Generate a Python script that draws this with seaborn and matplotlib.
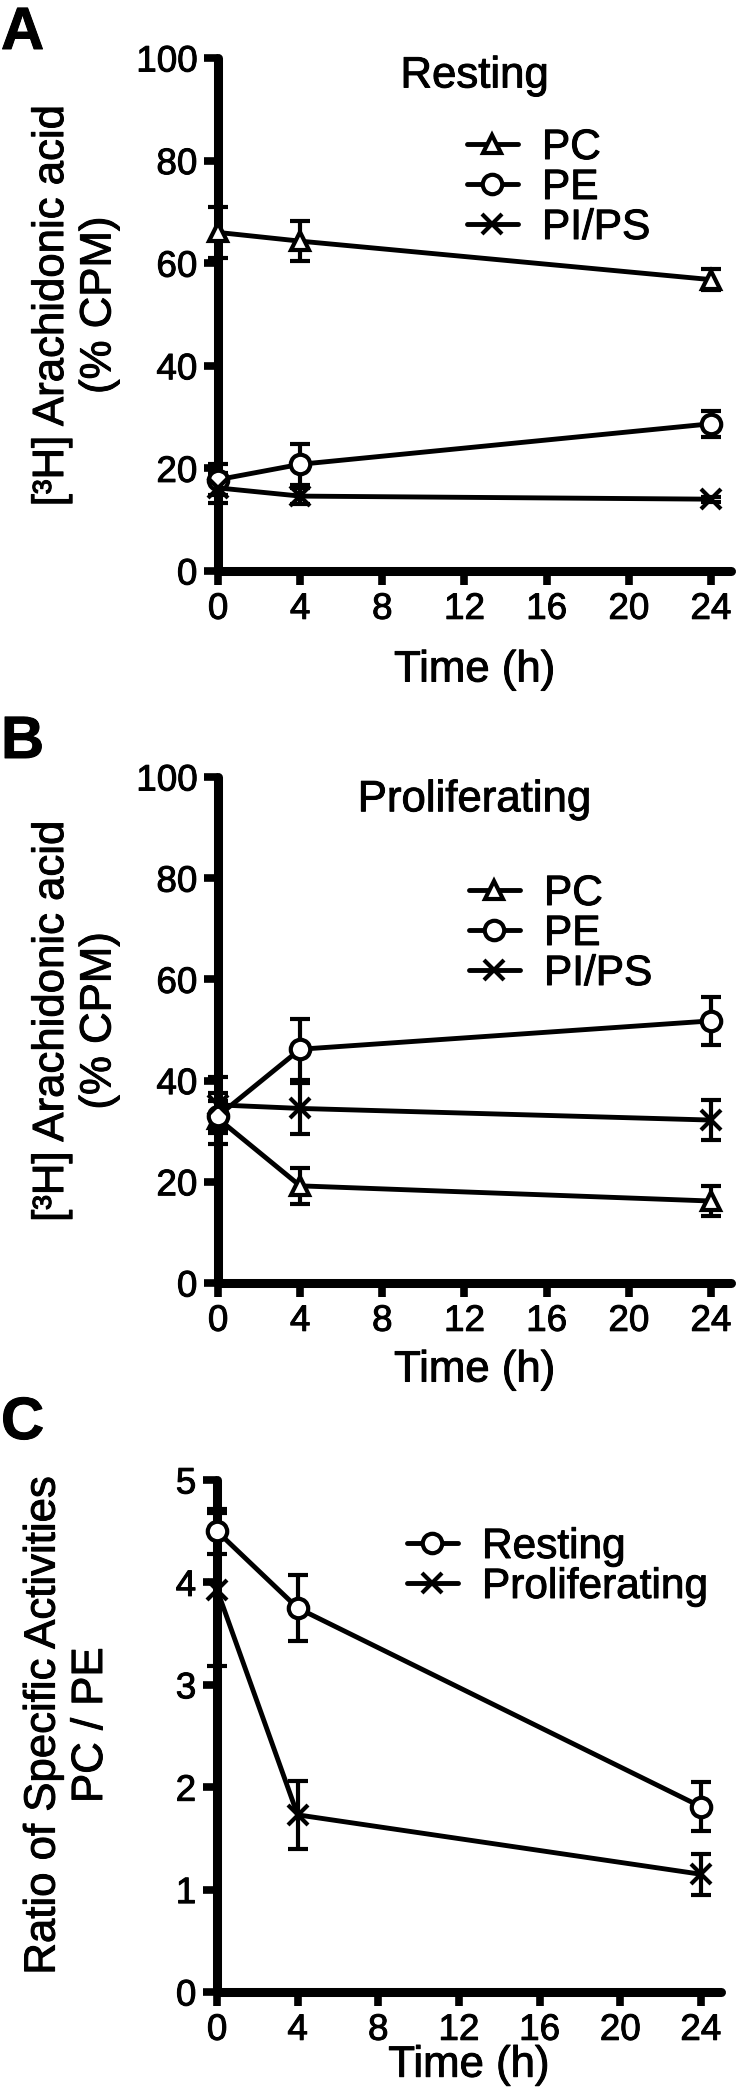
import numpy as np
import pandas as pd
import matplotlib
matplotlib.use("Agg")
import matplotlib.pyplot as plt
import matplotlib.patheffects as pe
import seaborn as sns

# ---------------- data ----------------
time_h = [0, 4, 24]
x_ticks = [0, 4, 8, 12, 16, 20, 24]

# Panel A: Resting
rest_pc = [66.0, 64.3, 56.8]
rest_pc_err = [5.0, 3.9, 2.0]
rest_pe = [17.8, 20.8, 28.7]
rest_pe_err = [3.0, 4.0, 2.5]
rest_pips = [16.2, 14.6, 14.0]
rest_pips_err = [3.0, 1.5, 0.5]

# Panel B: Proliferating
prol_pc = [32.5, 19.2, 16.2]
prol_pc_err = [5.0, 3.5, 3.0]
prol_pe = [33.0, 46.2, 51.8]
prol_pe_err = [3.0, 6.0, 4.7]
prol_pips = [35.2, 34.5, 32.2]
prol_pips_err = [5.5, 5.0, 4.0]

# Panel C: ratio PC/PE
ratio_rest = [4.50, 3.75, 1.81]
ratio_rest_err = [0.22, 0.32, 0.24]
ratio_prol = [3.93, 1.73, 1.15]
ratio_prol_err = [0.75, 0.33, 0.20]

y_ticks_ab = [0, 20, 40, 60, 80, 100]
y_ticks_c = [0, 1, 2, 3, 4, 5]

# ---------------- style ----------------
sns.set_theme(style="ticks")
plt.rcParams["font.family"] = ["Liberation Sans", "DejaVu Sans"]
plt.rcParams["text.color"] = "black"
plt.rcParams["axes.labelcolor"] = "black"
plt.rcParams["axes.linewidth"] = 6.5
plt.rcParams["xtick.major.width"] = 5.5
plt.rcParams["ytick.major.width"] = 5.5
plt.rcParams["xtick.major.size"] = 10
plt.rcParams["ytick.major.size"] = 10
plt.rcParams["xtick.color"] = "black"
plt.rcParams["ytick.color"] = "black"
plt.rcParams["xtick.labelcolor"] = "black"
plt.rcParams["ytick.labelcolor"] = "black"
plt.rcParams["axes.edgecolor"] = "black"

TICK_FS = 26.5
LAB_FS = 31.5
LEG_FS = 30.5

fig = plt.figure(figsize=(7.36, 20.92), dpi=100)
W, H = 736.0, 2092.0


def make_ax(left, right, top, bottom):
    return fig.add_axes([left / W, 1 - bottom / H, (right - left) / W, (bottom - top) / H])


axA = make_ax(218, 731.5, 58, 571)
axB = make_ax(218, 731.5, 777, 1283)
axC = make_ax(217, 721, 1480, 1992)

LW = 3.5
MEW = 3.0
series_style = {
    "^": dict(markersize=12.5),
    "o": dict(markersize=14),
    "x": dict(markersize=15),
}


def draw(ax, y, err, marker, label):
    df = pd.DataFrame({"Time (h)": time_h, "value": y})
    ax.errorbar(time_h, y, yerr=err, fmt="none", ecolor="black",
                elinewidth=3, capsize=7, capthick=3, zorder=3, clip_on=False)
    sns.lineplot(data=df, x="Time (h)", y="value", ax=ax, color="black",
                 linewidth=LW, marker=marker, markerfacecolor="white",
                 markeredgecolor="black", markeredgewidth=MEW,
                 label=label, zorder=5, clip_on=False,
                 **series_style[marker])


def style_axes(ax, yticks, ymax):
    ax.set_xlim(0, 25)
    ax.set_ylim(0, ymax)
    ax.set_xticks(x_ticks)
    ax.set_yticks(yticks)
    ax.tick_params(axis="both", labelsize=TICK_FS, direction="out")
    ax.tick_params(axis="x", pad=5)
    ax.tick_params(axis="y", pad=5)
    sns.despine(ax=ax)
    for s in ("left", "bottom"):
        ax.spines[s].set_capstyle("round")
        ax.spines[s].set_zorder(4)


# Panel A
draw(axA, rest_pc, rest_pc_err, "^", "PC")
draw(axA, rest_pe, rest_pe_err, "o", "PE")
draw(axA, rest_pips, rest_pips_err, "x", "PI/PS")
style_axes(axA, y_ticks_ab, 100)
axA.set_title("Resting", fontsize=LAB_FS, y=0.965, va="center", pad=0)

# Panel B
draw(axB, prol_pc, prol_pc_err, "^", "PC")
draw(axB, prol_pe, prol_pe_err, "o", "PE")
draw(axB, prol_pips, prol_pips_err, "x", "PI/PS")
style_axes(axB, y_ticks_ab, 100)
axB.set_title("Proliferating", fontsize=LAB_FS, y=0.955, va="center", pad=0)

# Panel C
draw(axC, ratio_rest, ratio_rest_err, "o", "Resting")
draw(axC, ratio_prol, ratio_prol_err, "x", "Proliferating")
style_axes(axC, y_ticks_c, 5)

# axis labels
for ax, yl, ycoord, xl_y in (
    (axA, "[³H] Arachidonic acid\n(% CPM)", (-0.278, 0.518), -0.193),
    (axB, "[³H] Arachidonic acid\n(% CPM)", (-0.278, 0.518), -0.172),
    (axC, "Ratio of Specific Activities\nPC / PE", (-0.298, 0.521), -0.143),
):
    ax.set_ylabel(yl, fontsize=LAB_FS, linespacing=1.2)
    ax.yaxis.set_label_coords(*ycoord)
    ax.yaxis.label.set_va("center")
    ax.set_xlabel("Time (h)", fontsize=LAB_FS)
    ax.xaxis.set_label_coords(0.5, xl_y)
    ax.xaxis.label.set_va("center")

# legends
leg_kw = dict(frameon=False, fontsize=LEG_FS, handlelength=1.2,
              handletextpad=0.57, labelspacing=0.0, borderpad=0,
              borderaxespad=0, loc="upper left", numpoints=1)
axA.legend(bbox_to_anchor=((467 - 218) / 513.5, (571 - 128) / 513), **leg_kw)
axB.legend(bbox_to_anchor=((469 - 218) / 513.5, (1283 - 874) / 506), **leg_kw)
axC.legend(bbox_to_anchor=((407 - 217) / 504, (1992 - 1527) / 512), **leg_kw)

# panel letters
for letter, base in (("A", 49), ("B", 758), ("C", 1439)):
    fig.text(1 / W, 1 - base / H, letter, fontsize=43, fontweight="bold",
             ha="left", va="baseline")

# slightly heavier text strokes, like the original print
for t in fig.findobj(matplotlib.text.Text):
    t.set_path_effects([pe.withStroke(linewidth=0.7, foreground="black")])

fig.savefig("out.png", dpi=100)
